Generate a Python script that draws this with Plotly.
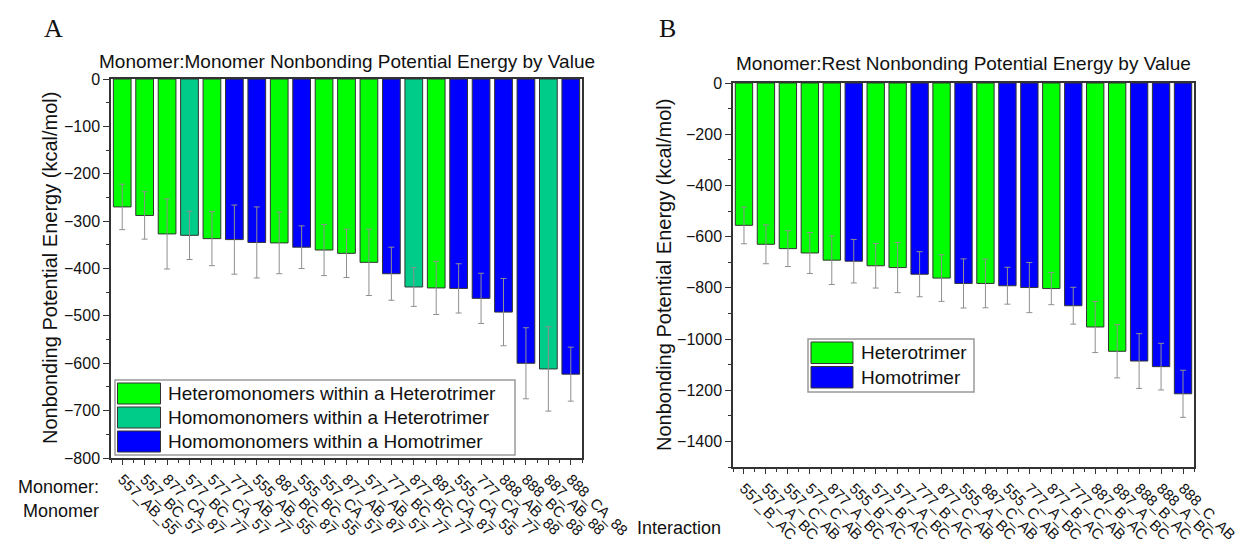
import plotly.graph_objects as go

# ---------------- data ----------------
labels_A = ["557_AB_55", "557_BC_57", "877_CA_87", "577_BC_77", "577_CA_57",
            "777_AB_77", "555_AB_55", "887_BC_87", "555_BC_55", "557_CA_57",
            "877_AB_87", "577_AB_57", "777_BC_77", "877_BC_77", "887_CA_87",
            "555_CA_55", "777_CA_77", "888_AB_88", "888_BC_88", "887_AB_88",
            "888_CA_88"]
values_A = [-270, -288, -327, -330, -337, -339, -345, -346, -355, -361, -368,
            -387, -411, -439, -441, -442, -463, -492, -600, -612, -623]
errors_A = [48, 50, 74, 51, 57, 73, 75, 65, 45, 54, 51,
            70, 56, 41, 56, 52, 53, 71, 75, 89, 57]
groups_A = ["hetmono", "hetmono", "hetmono", "homo_het", "hetmono",
            "homo_homo", "homo_homo", "hetmono", "homo_homo", "hetmono",
            "hetmono", "hetmono", "homo_homo", "homo_het", "hetmono",
            "homo_homo", "homo_homo", "homo_homo", "homo_homo", "homo_het",
            "homo_homo"]

labels_B = ["557_B_AC", "557_A_BC", "557_C_AB", "577_C_AB", "877_A_BC",
            "555_B_AC", "577_B_AC", "577_A_BC", "777_B_AC", "877_C_AB",
            "555_A_BC", "887_C_AB", "555_C_AB", "777_A_BC", "877_B_AC",
            "777_C_AB", "887_B_AC", "887_A_BC", "888_B_AC", "888_A_BC",
            "888_C_AB"]
values_B = [-556, -630, -647, -664, -692, -696, -714, -721, -747, -762, -783,
            -783, -792, -799, -803, -870, -953, -1048, -1086, -1108, -1214]
errors_B = [72, 76, 70, 80, 95, 85, 87, 98, 88, 91, 96,
            95, 72, 98, 63, 72, 100, 104, 107, 91, 92]
groups_B = ["het", "het", "het", "het", "het", "homo", "het", "het", "homo",
            "het", "homo", "het", "homo", "homo", "het", "homo", "het", "het",
            "homo", "homo", "homo"]

legend_A = [("hetmono", "Heteromonomers within a Heterotrimer"),
            ("homo_het", "Homomonomers within a Heterotrimer"),
            ("homo_homo", "Homomonomers within a Homotrimer")]
legend_B = [("het", "Heterotrimer"), ("homo", "Homotrimer")]

title_A = "Monomer:Monomer Nonbonding Potential Energy by Value"
title_B = "Monomer:Rest Nonbonding Potential Energy by Value"
ytitle = "Nonbonding Potential Energy (kcal/mol)"

# ---------------- style ----------------
COL = {"hetmono": "#00FF00", "homo_het": "#00CC8A", "homo_homo": "#0000FF",
       "het": "#00FF00", "homo": "#0000FF"}
W, H = 1252, 544
OFF = 8  # page body margin
FONT = "Liberation Sans, Arial, Helvetica, sans-serif"
EDGE = "#333333"
ERRC = "#8f8f8f"


def X(px):
    return (px - OFF) / W


def Y(py):
    return 1 - (py - OFF) / H


fig = go.Figure()

fig.add_trace(go.Bar(
    x=list(range(len(values_A))), y=values_A,
    marker=dict(color=[COL[g] for g in groups_A], line=dict(color=EDGE, width=1)),
    error_y=dict(type="data", array=errors_A, color=ERRC, thickness=1, width=3),
    xaxis="x", yaxis="y", showlegend=False))

fig.add_trace(go.Bar(
    x=list(range(len(values_B))), y=values_B,
    marker=dict(color=[COL[g] for g in groups_B], line=dict(color=EDGE, width=1)),
    error_y=dict(type="data", array=errors_B, color=ERRC, thickness=1, width=3),
    xaxis="x2", yaxis="y2", showlegend=False))


def xax(domain, labels, anchor):
    n = len(labels)
    return dict(domain=domain, range=[-0.5, n - 0.5], tickmode="array",
                tickvals=list(range(n)), ticktext=labels, tickangle=45,
                ticks="outside", ticklen=5, tickwidth=1, tickcolor=EDGE,
                minor=dict(tickvals=[i - 0.5 for i in range(n + 1)], ticks="outside",
                           ticklen=3, tickwidth=1, tickcolor=EDGE),
                showline=True, mirror=True, linecolor=EDGE, linewidth=1.5,
                showgrid=False, zeroline=False, anchor=anchor, automargin=False,
                tickfont=dict(family=FONT, size=15, color="#111"))


def yax(domain, rng, dtick, anchor):
    return dict(domain=domain, range=rng, dtick=dtick, tick0=0,
                ticks="outside", ticklen=6, tickwidth=1, tickcolor=EDGE,
                minor=dict(dtick=dtick / 2, ticks="outside", ticklen=3,
                           tickwidth=1, tickcolor=EDGE),
                showline=True, mirror=True, linecolor=EDGE, linewidth=1.5,
                showgrid=False, zeroline=False, anchor=anchor, automargin=False,
                tickfont=dict(family=FONT, size=16, color="#111"))


fig.update_layout(
    width=W, height=H, margin=dict(l=0, r=0, t=0, b=0, pad=0, autoexpand=False),
    paper_bgcolor="white", plot_bgcolor="white", bargap=0.21,
    xaxis=xax([X(111), X(582)], labels_A, "y"),
    yaxis=yax([Y(458), Y(79)], [-800, 0], 100, "x"),
    xaxis2=xax([X(733), X(1194)], labels_B, "y2"),
    yaxis2=yax([Y(467), Y(83)], [-1500, 0], 200, "x2"),
    showlegend=False,
)

ann = []
shapes = []


def text(x, y, s, size, xanchor="center", angle=0, family=FONT):
    ann.append(dict(x=X(x), y=Y(y), xref="paper", yref="paper", text=s,
                    showarrow=False, xanchor=xanchor, yanchor="middle",
                    textangle=angle, font=dict(family=family, size=size, color="#111")))


# panel letters
text(53, 29, "A", 26, family="Liberation Serif, Times New Roman, serif")
text(667, 29, "B", 26, family="Liberation Serif, Times New Roman, serif")
# titles
text(346.5, 62, title_A, 19)
text(963.5, 64, title_B, 19)
# y titles
text(50, 268, ytitle, 20, angle=-90)
text(664, 275, ytitle, 20, angle=-90)
# x-axis side labels
text(101, 487, "Monomer:", 18, xanchor="right")
text(101, 511, "Monomer", 18, xanchor="right")
text(723, 528, "Interaction", 18, xanchor="right")


def legend(x0, y0, x1, y1, items, sw_x0, sw_x1, row_h, text_x, size):
    shapes.append(dict(type="rect", xref="paper", yref="paper", x0=X(x0), x1=X(x1),
                       y0=Y(y1), y1=Y(y0), line=dict(color="#9a9a9a", width=1.5),
                       fillcolor="white", layer="above"))
    for i, (g, lab) in enumerate(items):
        top = y0 + 3 + i * row_h
        bot = top + row_h - 3
        shapes.append(dict(type="rect", xref="paper", yref="paper", x0=X(sw_x0),
                           x1=X(sw_x1), y0=Y(bot), y1=Y(top),
                           line=dict(color=EDGE, width=1), fillcolor=COL[g],
                           layer="above"))
        text(text_x, (top + bot) / 2, lab, size, xanchor="left")


legend(115, 380, 515, 455, legend_A, 117.5, 160.5, 24, 166, 19)
legend(808, 339, 974, 392, legend_B, 811, 853, 24.5, 859, 19)

fig.update_layout(annotations=ann, shapes=shapes)
fig.write_html("out.html")
